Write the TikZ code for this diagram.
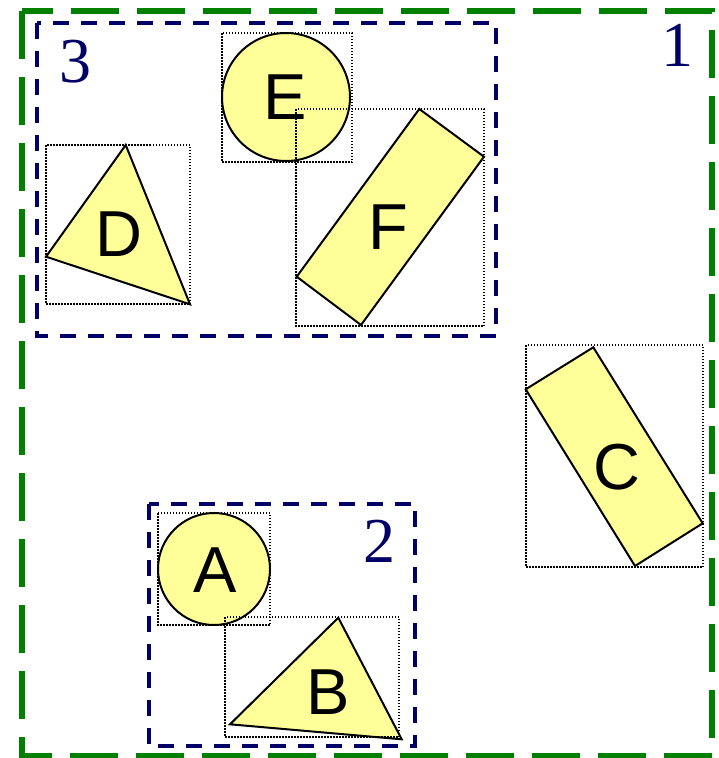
\documentclass[tikz,border=0pt]{standalone}
\usepackage{fontspec}
\setmainfont{Liberation Serif}
\newfontfamily\piecefont{Liberation Sans}
\usepackage{tikz}
\usepackage{xcolor}
\definecolor{levelgreen}{HTML}{008000}
\definecolor{levelnavy}{HTML}{000066}
\definecolor{piecefill}{HTML}{FFFF99}
\tikzset{
  outerlevel/.style={draw=levelgreen, line width=6pt, dash pattern=on 48pt off 18pt},
  innerlevel/.style={draw=levelnavy, line width=4pt, dash pattern=on 16pt off 12pt},
  piece/.style={draw=black, fill=piecefill, line width=2pt, line join=miter},
  bbox/.style={draw=black, line width=1.3pt, dash pattern=on 1.5pt off 1.5pt},
  piecelabel/.style={font=\piecefont\fontsize{65}{65}\selectfont, inner sep=0pt},
  levellabel/.style={font=\fontsize{64}{64}\selectfont, text=levelnavy, inner sep=0pt},
}

\begin{document}
\begin{tikzpicture}[x=1pt, y=-1pt]
      \useasboundingbox (0,0) rectangle (718,758);
      % nested levels
      \draw[outerlevel] (22,11) rectangle (712,755.5);
      \draw[innerlevel] (37,23) rectangle (496,336);
      \draw[innerlevel] (148.5,503.5) rectangle (415,746);
      \node[levellabel] (lvl1) at (677,45) {1};
      \node[levellabel] (lvl2) at (379,541) {2};
      \node[levellabel] (lvl3) at (75,62) {3};
      % pieces
      \draw[piece] (214,569) circle (56);
      \draw[piece] (338.3,617.7) -- (230,724.3) -- (401.7,739.3) -- cycle;
      \draw[piece] (593.3,347.3) -- (525.7,389.3) -- (635,566) -- (702.7,523.3) -- cycle;
      \draw[piece] (125.7,145) -- (46,256.7) -- (190,304.3) -- cycle;
      \draw[piece] (286,97) circle (64);
      \draw[piece] (419.3,109) -- (484,156.7) -- (361,325) -- (296.7,276.7) -- cycle;
      % bounding boxes
      \draw[bbox] (158,513) rectangle (270,625);
      \draw[bbox] (225,617) rectangle (399,737);
      \draw[bbox] (526,345) rectangle (703,567);
      \draw[bbox] (46,145) rectangle (190,304);
      \draw[bbox] (222,33) rectangle (352,162);
      \draw[bbox] (296,109) rectangle (484,326);
      % piece names
      \node[piecelabel] (pa) at (215,570) {A};
      \node[piecelabel] (pb) at (328,692) {B};
      \node[piecelabel] (pc) at (617,467) {C};
      \node[piecelabel] (pd) at (119,234) {D};
      \node[piecelabel] (pe) at (285,97) {E};
      \node[piecelabel] (pf) at (388,227) {F};
    \end{tikzpicture}
\end{document}
